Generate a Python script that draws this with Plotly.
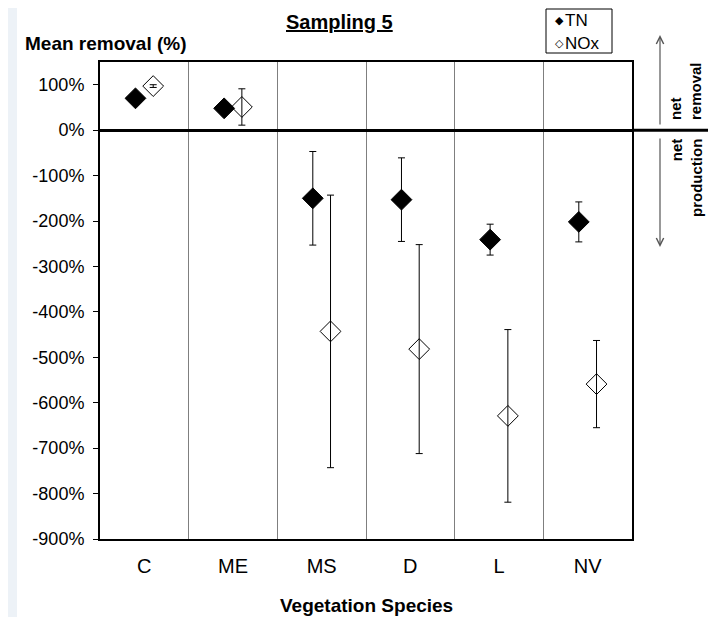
import plotly.graph_objects as go

categories = ["C", "ME", "MS", "D", "L", "NV"]
tn_mean = [70, 48, -150, -153, -241, -202]
tn_err = [0, 10, 103, 92, 34, 44]
nox_mean = [97, 51, -443, -482, -629, -559]
nox_err = [3, 40, 300, 230, 190, 96]
ytick_vals = [100, 0, -100, -200, -300, -400, -500, -600, -700, -800, -900]
ytick_text = ["100%", "0%", "-100%", "-200%", "-300%", "-400%", "-500%",
              "-600%", "-700%", "-800%", "-900%"]
series_names = ["TN", "NOx"]
legend_glyphs = ["◆", "◇"]

FONT = "Arial, 'Liberation Sans', sans-serif"

# page body has an 8px margin: figure is placed at (8, 8)
OFF = 8
PL, PR, PT, PB = 100, 632, 62, 539  # plot area in window pixels
PW, PH = PR - PL, PB - PT


def px(x):
    return (x - PL) / PW


def py(y):
    return (PB - y) / PH


fig = go.Figure()
fig.add_trace(go.Scatter(
    x=categories, y=tn_mean, name=series_names[0], mode="markers",
    marker=dict(symbol="diamond", size=16, color="black", line=dict(color="black", width=1)),
    error_y=dict(type="data", array=tn_err, visible=True, color="black", thickness=1, width=3.5),
))
fig.add_trace(go.Scatter(
    x=categories, y=nox_mean, name=series_names[1], mode="markers",
    marker=dict(symbol="diamond-open", size=16, color="black", line=dict(color="black", width=1)),
    error_y=dict(type="data", array=nox_err, visible=True, color="black", thickness=1, width=3.5),
))

legend_annots = []
for i, (g, n) in enumerate(zip(legend_glyphs, series_names)):
    yc = 20 + 23 * i
    legend_annots.append(dict(text=g, xref="paper", yref="paper", x=px(559), y=py(yc),
                              showarrow=False, font=dict(size=11, family="DejaVu Sans"),
                              xanchor="center", yanchor="middle"))
    legend_annots.append(dict(text=n, xref="paper", yref="paper", x=px(563), y=py(yc),
                              showarrow=False, font=dict(size=17),
                              xanchor="left", yanchor="middle"))

W, H = 717 - OFF, 617 - OFF
fig.update_layout(
    width=W, height=H,
    margin=dict(l=PL - OFF, r=717 - PR, t=PT - OFF, b=617 - PB, autoexpand=False),
    paper_bgcolor="white", plot_bgcolor="white",
    font=dict(family=FONT, color="black", size=17),
    scattermode="group", scattergap=0.6,
    showlegend=False,
    xaxis=dict(
        type="category", categoryorder="array", categoryarray=categories,
        tickson="boundaries", ticks="", showgrid=True, gridcolor="#7f7f7f", gridwidth=1.3,
        showline=True, linecolor="black", linewidth=2, mirror=True,
        ticklabelstandoff=8, tickfont=dict(size=20),
        range=[-0.5, 5.5],
    ),
    yaxis=dict(
        range=[-900, 150], tickvals=ytick_vals, ticktext=ytick_text,
        ticks="outside", ticklen=5, tickcolor="black", tickwidth=1,
        showgrid=False, zeroline=True, zerolinecolor="black", zerolinewidth=3,
        showline=True, linecolor="black", linewidth=2, mirror=True,
        tickfont=dict(size=18), ticklabelstandoff=5,
    ),
    shapes=[
        dict(type="rect", xref="paper", yref="paper", x0=px(0), x1=px(17), y0=py(620), y1=py(0),
             fillcolor="#edf2f7", line=dict(width=0), layer="below"),
        dict(type="line", xref="paper", yref="y", x0=1.0, x1=px(708), y0=0, y1=0,
             line=dict(color="black", width=3)),
        # legend box
        dict(type="rect", xref="paper", yref="paper", x0=px(546), x1=px(612), y0=py(53), y1=py(9),
             fillcolor="white", line=dict(color="black", width=1)),
    ],
    annotations=[
        dict(text="<b><u>Sampling 5</u></b>", xref="paper", yref="paper",
             x=px(339), y=py(22), showarrow=False,
             font=dict(size=20), xanchor="center", yanchor="middle"),
        dict(text="<b>Mean removal (%)</b>", xref="paper", yref="paper",
             x=px(106), y=py(43), showarrow=False,
             font=dict(size=19), xanchor="center", yanchor="middle"),
        dict(text="<b>Vegetation Species</b>", xref="paper", yref="paper",
             x=px(366), y=py(605), showarrow=False,
             font=dict(size=19), xanchor="center", yanchor="middle"),
        # net removal / net production arrows
        dict(text="", xref="paper", yref="paper",
             x=px(660), y=py(35), ax=0, ay=91,
             showarrow=True, arrowhead=5, arrowsize=1.2, arrowwidth=1.2, arrowcolor="#555555"),
        dict(text="", xref="paper", yref="paper",
             x=px(660), y=py(247), ax=0, ay=-110,
             showarrow=True, arrowhead=5, arrowsize=1.2, arrowwidth=1.2, arrowcolor="#555555"),
        dict(text="<b>net<br>removal</b>", xref="paper", yref="paper",
             x=px(686), y=py(91), showarrow=False, textangle=-90,
             align="left", font=dict(size=15), xanchor="center", yanchor="middle"),
        dict(text="<b>net<br>production</b>", xref="paper", yref="paper",
             x=px(686), y=py(178), showarrow=False, textangle=-90,
             align="right", font=dict(size=15), xanchor="center", yanchor="middle"),
    ] + legend_annots,
)

fig.write_html("out.html")
